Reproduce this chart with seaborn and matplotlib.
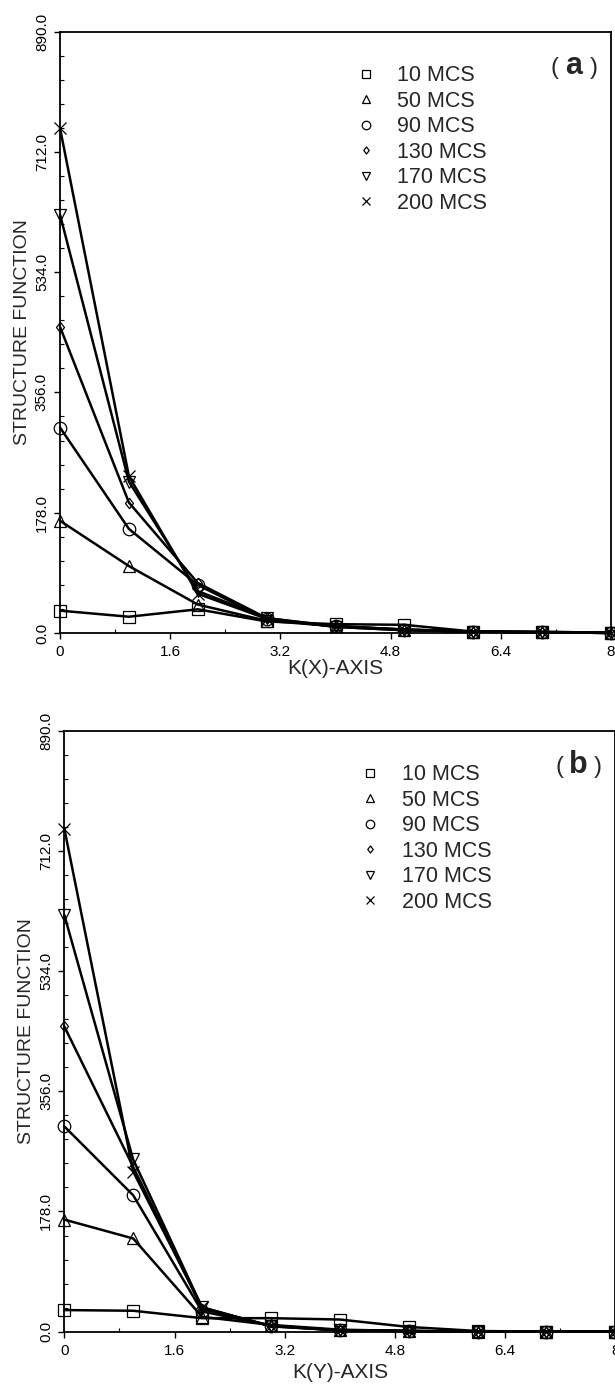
import matplotlib
matplotlib.use("Agg")
import matplotlib.pyplot as plt
from matplotlib.lines import Line2D
from matplotlib.path import Path
from matplotlib.ticker import FixedLocator, MultipleLocator
import seaborn as sns

# wave-vector index along the axis
k_values = [0, 1, 2, 3, 4, 5, 6, 7, 8]

series_labels = ["10 MCS", "50 MCS", "90 MCS", "130 MCS", "170 MCS", "200 MCS"]

# structure function along K(X)
kx_10 = [33, 24, 35, 17, 13, 12, 2, 2, 0]
kx_50 = [166, 99, 42, 18, 10, 5, 2, 1, 0]
kx_90 = [304, 154, 71, 20, 10, 5, 2, 1, 0]
kx_130 = [453, 193, 74, 22, 10, 5, 2, 1, 0]
kx_170 = [619, 224, 62, 22, 9, 4, 2, 1, 0]
kx_200 = [747, 232, 58, 21, 9, 4, 2, 1, 0]

# structure function along K(Y)
ky_10 = [32, 31, 20, 20, 18, 7, 1, 0, 0]
ky_50 = [166, 138, 22, 10, 3, 1, 0, 0, 0]
ky_90 = [304, 202, 30, 9, 2, 1, 0, 0, 0]
ky_130 = [452, 244, 34, 9, 2, 1, 0, 0, 0]
ky_170 = [617, 255, 36, 8, 2, 1, 0, 0, 0]
ky_200 = [745, 237, 36, 8, 2, 1, 0, 0, 0]

x_ticks = [0, 1.6, 3.2, 4.8, 6.4, 8]
x_tick_labels = ["0", "1.6", "3.2", "4.8", "6.4", "8"]
y_ticks = [0, 178, 356, 534, 712, 890]
y_tick_labels = ["0.0", "178.0", "356.0", "534.0", "712.0", "890.0"]

sns.set_theme(style="ticks")
plt.rcParams["font.family"] = ["Liberation Sans", "DejaVu Sans"]

# slightly narrow open diamond
diamond = Path([(0, 1), (0.78, 0), (0, -1), (-0.78, 0), (0, 1)],
               [Path.MOVETO, Path.LINETO, Path.LINETO, Path.LINETO, Path.CLOSEPOLY])

marker_styles = ["s", "^", "o", diamond, "v", "x"]
marker_sizes = [8.4, 8.6, 9.0, 7.4, 8.6, 8.6]

fig = plt.figure(figsize=(6.15, 13.85), dpi=100)
ax_a = fig.add_axes([0.0976, 0.5430, 0.8959, 0.4342])
ax_b = fig.add_axes([0.1046, 0.0385, 0.8959, 0.4339])

panels = [
    (ax_a, [kx_10, kx_50, kx_90, kx_130, kx_170, kx_200], "K(X)-AXIS", "a", -0.043),
    (ax_b, [ky_10, ky_50, ky_90, ky_130, ky_170, ky_200], "K(Y)-AXIS", "b", -0.052),
]

for ax, series, xlabel, tag, xlab_y in panels:
    for vals, m, ms in zip(series, marker_styles, marker_sizes):
        sns.lineplot(x=k_values, y=vals, ax=ax, color="black", linewidth=1.8,
                     marker=m, ms=ms, mfc="none", mec="black", mew=0.9,
                     errorbar=None, clip_on=False, legend=False)

    ax.set_xlim(0, 8)
    ax.set_ylim(0, 890)
    ax.xaxis.set_major_locator(FixedLocator(x_ticks))
    ax.set_xticklabels(x_tick_labels)
    ax.xaxis.set_minor_locator(MultipleLocator(0.8))
    ax.yaxis.set_major_locator(FixedLocator(y_ticks))
    ax.set_yticklabels(y_tick_labels, rotation=90, va="center")
    ax.yaxis.set_minor_locator(MultipleLocator(35.6))
    ax.tick_params(which="major", direction="out", length=4, width=1,
                   labelsize=11, colors="black")
    ax.tick_params(axis="x", which="major", pad=5)
    ax.tick_params(axis="y", which="major", pad=4)
    ax.tick_params(which="minor", direction="in", length=3, width=0.8,
                   colors="black")
    for side in ["top", "right", "left", "bottom"]:
        ax.spines[side].set_visible(True)
        ax.spines[side].set_linewidth(1.3)
        ax.spines[side].set_color("black")

    ax.set_xlabel(xlabel, fontsize=15)
    ax.xaxis.set_label_coords(0.5, xlab_y)
    ax.set_ylabel("STRUCTURE FUNCTION", fontsize=14)
    ax.yaxis.set_label_coords(-0.053, 0.5)

    handles = [Line2D([], [], linestyle="none", marker=m, ms=ms * 0.68,
                      mfc="none", mec="black", mew=0.9)
               for m, ms in zip(marker_styles, marker_sizes)]
    ax.legend(handles, series_labels, loc="upper left",
              bbox_to_anchor=(0.536, 0.944), frameon=False, fontsize=15.5,
              handlelength=1.0, handletextpad=0.95, labelspacing=0.21,
              borderpad=0, borderaxespad=0)

    # panel tag: light parentheses around a bold letter
    ax.text(0.898, 0.930, "(", transform=ax.transAxes, ha="center",
            va="baseline", fontsize=17)
    ax.text(0.933, 0.930, tag, transform=ax.transAxes, ha="center",
            va="baseline", fontsize=22, fontweight="bold")
    ax.text(0.968, 0.930, ")", transform=ax.transAxes, ha="center",
            va="baseline", fontsize=17)

fig.savefig("out.png", dpi=100)
